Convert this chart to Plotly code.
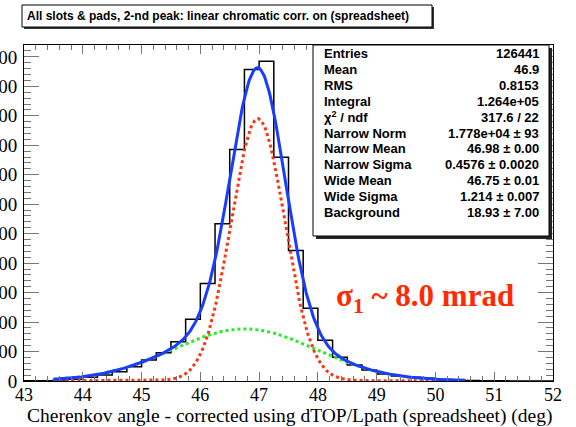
import numpy as np
import plotly.graph_objects as go

# ---------------- data ----------------
x_min, x_max, bin_width = 43.0, 52.0, 0.25
counts = [10, 20, 70, 120, 250, 410, 630, 970, 1430, 1920, 2670, 4190,
          6620, 10680, 15710, 21150, 21710, 15190, 8860, 4940, 2760, 1610,
          1090, 750, 480, 340, 250, 180, 110, 60, 30, 15, 10, 5, 0, 0]

# fit parameters (double gaussian + constant background)
narrow_norm, narrow_mean, narrow_sigma = 17780.0, 46.98, 0.4576
wide_norm, wide_mean, wide_sigma = 3520.0, 46.75, 1.214
background = 18.93
fit_lo, fit_hi = 43.5, 50.5

title_text = "All slots & pads, 2-nd peak: linear chromatic corr. on (spreadsheet)"
x_title = "Cherenkov angle - corrected using dTOP/Lpath (spreadsheet) (deg)"
stat_labels = ["Entries", "Mean", "RMS", "Integral", "χ<sup>2</sup> / ndf",
               "Narrow Norm", "Narrow Mean", "Narrow Sigma", "Wide Mean",
               "Wide Sigma", "Background"]
stat_values = ["126441", "46.9", "0.8153", "1.264e+05", "317.6 / 22",
               "1.778e+04 ± 93", "46.98 ± 0.00", "0.4576 ± 0.0020",
               "46.75 ± 0.01", "1.214 ± 0.007", "18.93 ± 7.00"]
y_max = 22806

# ---------------- geometry ----------------
W, H = 576, 427
L, R, T, B = 24, 23, 45, 46
pw, ph = W - L - R, H - T - B


def xp(px):
    return (px - L) / pw


def yp(py):
    return (H - B - py) / ph


edges = x_min + bin_width * np.arange(len(counts) + 1)
step_y = list(counts) + [counts[-1]]

xf = np.linspace(fit_lo, fit_hi, 400)
g_narrow = narrow_norm * np.exp(-0.5 * ((xf - narrow_mean) / narrow_sigma) ** 2)
g_wide = wide_norm * np.exp(-0.5 * ((xf - wide_mean) / wide_sigma) ** 2)
total = g_narrow + g_wide + background

fig = go.Figure()
fig.add_trace(go.Scatter(x=edges, y=step_y, mode="lines", line_shape="hv",
                         line=dict(color="black", width=1.5), hoverinfo="skip"))
fig.add_trace(go.Scatter(x=xf, y=g_wide + background, mode="lines",
                         line=dict(color="#22ee22", width=3, dash="dot")))
fig.add_trace(go.Scatter(x=xf, y=g_narrow + background, mode="lines",
                         line=dict(color="#ff3311", width=3, dash="dot")))
fig.add_trace(go.Scatter(x=xf, y=total, mode="lines",
                         line=dict(color="#1a3cff", width=3)))

axis_common = dict(showline=True, linecolor="black", linewidth=1, mirror="allticks",
                   ticks="inside", tickcolor="#777777", showgrid=False, zeroline=False,
                   automargin=False)

fig.update_xaxes(range=[x_min, x_max], dtick=1, ticklen=9, ticklabelstandoff=-3,
                 tickfont=dict(family="Liberation Serif", size=18, color="black"),
                 minor=dict(dtick=0.2, ticklen=5, ticks="inside", tickcolor="#777777"),
                 **axis_common)
fig.update_yaxes(range=[0, y_max], dtick=2000, ticklen=15, tickformat="d",
                 ticklabelstandoff=2,
                 tickfont=dict(family="Liberation Serif", size=19, color="black"),
                 minor=dict(dtick=400, ticklen=7, ticks="inside", tickcolor="#777777"),
                 **axis_common)

shapes = []
annotations = []

# x-axis title
annotations.append(dict(xref="paper", yref="paper", x=xp(289), y=yp(416),
                        xanchor="center", yanchor="middle", showarrow=False,
                        text=x_title,
                        font=dict(family="Liberation Serif", size=19.5, color="black")))

# title box with shadow
tb = dict(x0=22, x1=432, y0=5, y1=27)
shapes.append(dict(type="rect", xref="paper", yref="paper", layer="above",
                   x0=xp(tb["x0"] + 2), x1=xp(tb["x1"] + 2), y0=yp(tb["y1"] + 2), y1=yp(tb["y0"] + 2),
                   fillcolor="#333333", line=dict(width=0)))
shapes.append(dict(type="rect", xref="paper", yref="paper", layer="above",
                   x0=xp(tb["x0"]), x1=xp(tb["x1"]), y0=yp(tb["y1"]), y1=yp(tb["y0"]),
                   fillcolor="white", line=dict(color="black", width=1)))
annotations.append(dict(xref="paper", yref="paper", x=xp(tb["x0"] + 3), y=yp(16),
                        xanchor="left", yanchor="middle", showarrow=False,
                        text="<b>" + title_text + "</b>",
                        font=dict(family="Liberation Sans", size=12, color="black")))

# stats box with shadow
sb = dict(x0=313, x1=549, y0=45, y1=236)
shapes.append(dict(type="rect", xref="paper", yref="paper", layer="above",
                   x0=xp(sb["x0"] + 3), x1=xp(sb["x1"] + 3), y0=yp(sb["y1"] + 3), y1=yp(sb["y0"] + 3),
                   fillcolor="#222222", line=dict(width=0)))
shapes.append(dict(type="rect", xref="paper", yref="paper", layer="above",
                   x0=xp(sb["x0"]), x1=xp(sb["x1"]), y0=yp(sb["y1"]), y1=yp(sb["y0"]),
                   fillcolor="white", line=dict(color="black", width=1)))
row0, drow = 53.5, 15.9
for i, (lab, val) in enumerate(zip(stat_labels, stat_values)):
    yy = yp(row0 + i * drow)
    annotations.append(dict(xref="paper", yref="paper", x=xp(322), y=yy,
                            xanchor="left", yanchor="middle", showarrow=False,
                            text="<b>" + lab + "</b>",
                            font=dict(family="Liberation Sans", size=13, color="black")))
    annotations.append(dict(xref="paper", yref="paper", x=xp(541), y=yy,
                            xanchor="right", yanchor="middle", showarrow=False,
                            text="<b>" + val + "</b>",
                            font=dict(family="Liberation Sans", size=13, color="black")))

# sigma annotation
annotations.append(dict(xref="paper", yref="paper", x=xp(425), y=yp(298),
                        xanchor="center", yanchor="middle", showarrow=False,
                        text="<b>σ<sub>1</sub> ~ 8.0 mrad</b>",
                        font=dict(family="Liberation Serif", size=31, color="#ff2a00")))

fig.update_layout(width=W, height=H, margin=dict(l=L, r=R, t=T, b=B, pad=0),
                  paper_bgcolor="white", plot_bgcolor="white", showlegend=False,
                  shapes=shapes, annotations=annotations)

fig.write_html("out.html")
